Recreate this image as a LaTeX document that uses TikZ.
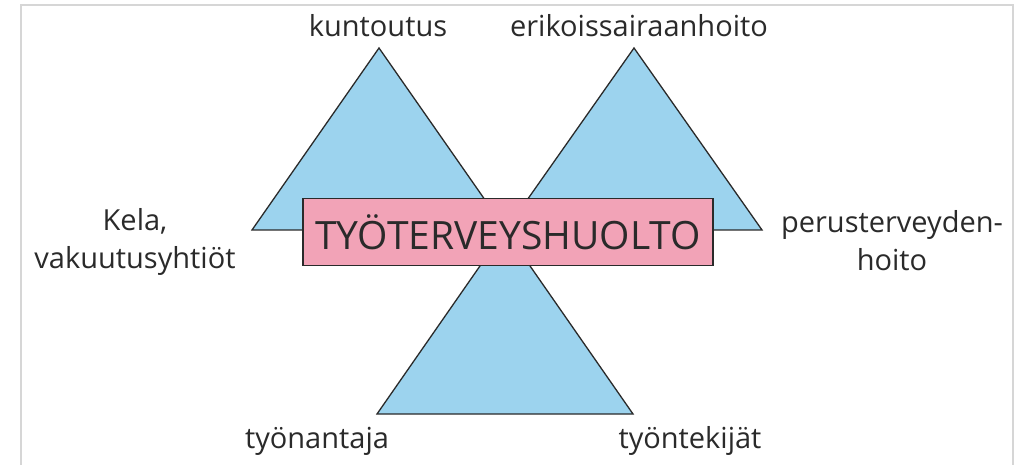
\documentclass[tikz,border=0pt]{standalone}
\usepackage{fontspec}
\setmainfont{Open Sans}
\definecolor{triblue}{HTML}{9CD3EE}
\definecolor{boxpink}{HTML}{F2A3B7}
\definecolor{inkgray}{HTML}{2A2A2A}
\definecolor{framegray}{HTML}{D6D6D6}
\begin{document}
\begin{tikzpicture}[x=1pt,y=1pt,
  tri/.style={fill=triblue,draw=inkgray,line width=1.3pt,line join=miter},
  titlebox/.style={fill=boxpink,draw=inkgray,line width=1.6pt,minimum width=410pt,minimum height=67pt,inner sep=0pt,
    font=\fontsize{39}{39}\selectfont,text=inkgray},
  lbl/.style={font=\fontsize{29}{38}\selectfont,text=inkgray,inner sep=0pt}]
\useasboundingbox (0,0) rectangle (1025,464);
\draw[framegray,line width=2pt] (21,-5) -- (21,459) -- (1013,459) -- (1013,-5);
% top-left triangle
\coordinate (a1) at (252,234);
\coordinate (a2) at (379,416);
\coordinate (a3) at (506,234);
\draw[tri] (a1) -- (a2) -- (a3) -- cycle;
% top-right triangle
\coordinate (b1) at (506,234);
\coordinate (b2) at (634,416);
\coordinate (b3) at (762,234);
\draw[tri] (b1) -- (b2) -- (b3) -- cycle;
% bottom triangle
\coordinate (c1) at (377,50);
\coordinate (c2) at (505,234);
\coordinate (c3) at (633,50);
\draw[tri] (c1) -- (c2) -- (c3) -- cycle;
% central box
\node[titlebox] (box) at (508,232) {TYÖTERVEYSHUOLTO};
% labels
\node[lbl,anchor=base] (kunt) at (378,427) {kuntoutus};
\node[lbl,anchor=base] (erik) at (639,427) {erikoissairaanhoito};
\node[lbl,anchor=north,align=center] (kela) at (135,256) {Kela,\\vakuutusyhtiöt};
\node[lbl,anchor=north,align=center] (perus) at (892,254) {perusterveyden-\\hoito};
\node[lbl,anchor=base] (tyonantaja) at (317,16) {työnantaja};
\node[lbl,anchor=base] (tyontekijat) at (690,16) {työntekijät};
\end{tikzpicture}
\end{document}
